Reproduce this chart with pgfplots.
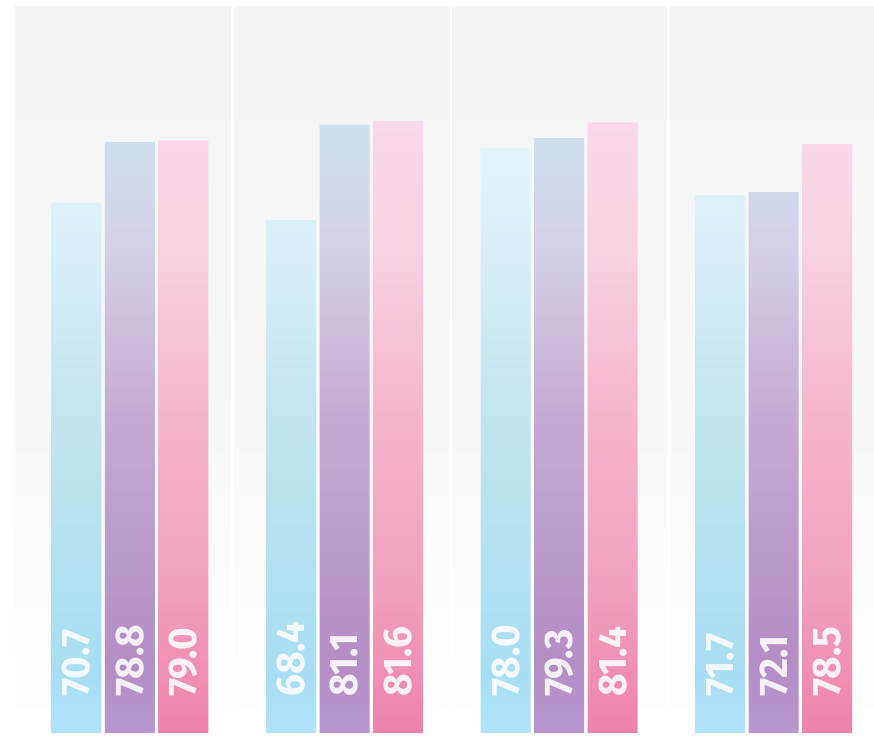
\documentclass[border=0pt]{standalone}
\usepackage{pgfplots}
\pgfplotsset{compat=1.18}
\usepackage{fontspec}
\setmainfont{Fira Sans}
\newfontfamily\labelfont[FakeStretch=0.97]{Fira Sans}

% background: light grey at the top, white at the bottom
\pgfdeclareverticalshading{bgshade}{100bp}{%
  color(0bp)=(white); color(25bp)=(white); color(34bp)=(white!99!black);
  color(44bp)=(white!97.5!black); color(50bp)=(white!96.8!black);
  color(63bp)=(white!96.3!black); color(71bp)=(white!95.5!black);
  color(100bp)=(white!95.5!black)}
% bar gradients (stops between 25bp = bottom and 75bp = top)
\definecolor{ba0}{HTML}{B0E3F9}\definecolor{ba1}{HTML}{A7DDF4}
\definecolor{ba2}{HTML}{BFE4ED}\definecolor{ba3}{HTML}{E3F4FB}
\definecolor{bb0}{HTML}{B896CF}\definecolor{bb1}{HTML}{B48DC5}
\definecolor{bb2}{HTML}{C4A8D2}\definecolor{bb3}{HTML}{D3D0E6}\definecolor{bb4}{HTML}{CDE0EE}
\definecolor{bc0}{HTML}{EE82AC}\definecolor{bc1}{HTML}{F1A0BD}
\definecolor{bc2}{HTML}{F5B6CC}\definecolor{bc3}{HTML}{F8D2E3}\definecolor{bc4}{HTML}{F9D8E9}
\pgfdeclareverticalshading{barA}{100bp}{%
  color(0bp)=(ba0); color(25bp)=(ba0); color(30bp)=(ba1); color(50bp)=(ba2);
  color(75bp)=(ba3); color(100bp)=(ba3)}
\pgfdeclareverticalshading{barB}{100bp}{%
  color(0bp)=(bb0); color(25bp)=(bb0); color(31bp)=(bb1); color(50bp)=(bb2);
  color(65bp)=(bb3); color(75bp)=(bb4); color(100bp)=(bb4)}
\pgfdeclareverticalshading{barC}{100bp}{%
  color(0bp)=(bc0); color(25bp)=(bc0); color(37bp)=(bc1); color(51bp)=(bc2);
  color(65bp)=(bc3); color(75bp)=(bc4); color(100bp)=(bc4)}

\begin{document}
\begin{tikzpicture}
\useasboundingbox (-15pt,-17pt) rectangle (859pt,733pt);
\begin{axis}[
    scale only axis, width=859pt, height=726pt,
    at={(0,0)}, anchor=south west,
    xmin=-0.536, xmax=3.468, ymin=0, ymax=96.8,
    axis line style={draw=none},
    xtick=\empty, ytick=\empty,
    extra x ticks={0.478,1.497,2.510}, extra x tick labels={},
    extra x tick style={grid=major, major grid style={white, line width=2.5pt},
        major tick length=0pt},
    axis background/.style={shading=bgshade},
    ybar, bar width=50pt,
    every node near coord/.append style={rotate=90, anchor=west, inner sep=0pt,
        text=white, text opacity=0.88, font=\labelfont\bfseries\fontsize{40}{40}\selectfont},
  ]
  \addplot[ybar, bar shift=-53.5pt, draw=none, shading=barA]
    coordinates {(0,70.7) (1,68.4) (2,78.0) (3,71.7)};
  \addplot[ybar, bar shift=0pt, draw=none, shading=barB]
    coordinates {(0,78.8) (1,81.1) (2,79.3) (3,72.1)};
  \addplot[ybar, bar shift=53.5pt, draw=none, shading=barC]
    coordinates {(0,79.0) (1,81.6) (2,81.4) (3,78.5)};
  % value labels near the foot of each bar
  \addplot[only marks, mark=none, nodes near coords, point meta=explicit symbolic]
    coordinates {
      (-0.2494,4.8) [70.7] (0.7506,4.8) [68.4] (1.7506,4.8) [78.0] (2.7506,4.8) [71.7]
      (0,4.8) [78.8] (1,4.8) [81.1] (2,4.8) [79.3] (3,4.8) [72.1]
      (0.2494,4.8) [79.0] (1.2494,4.8) [81.6] (2.2494,4.8) [81.4] (3.2494,4.8) [78.5]
    };
\end{axis}
\end{tikzpicture}
\end{document}
